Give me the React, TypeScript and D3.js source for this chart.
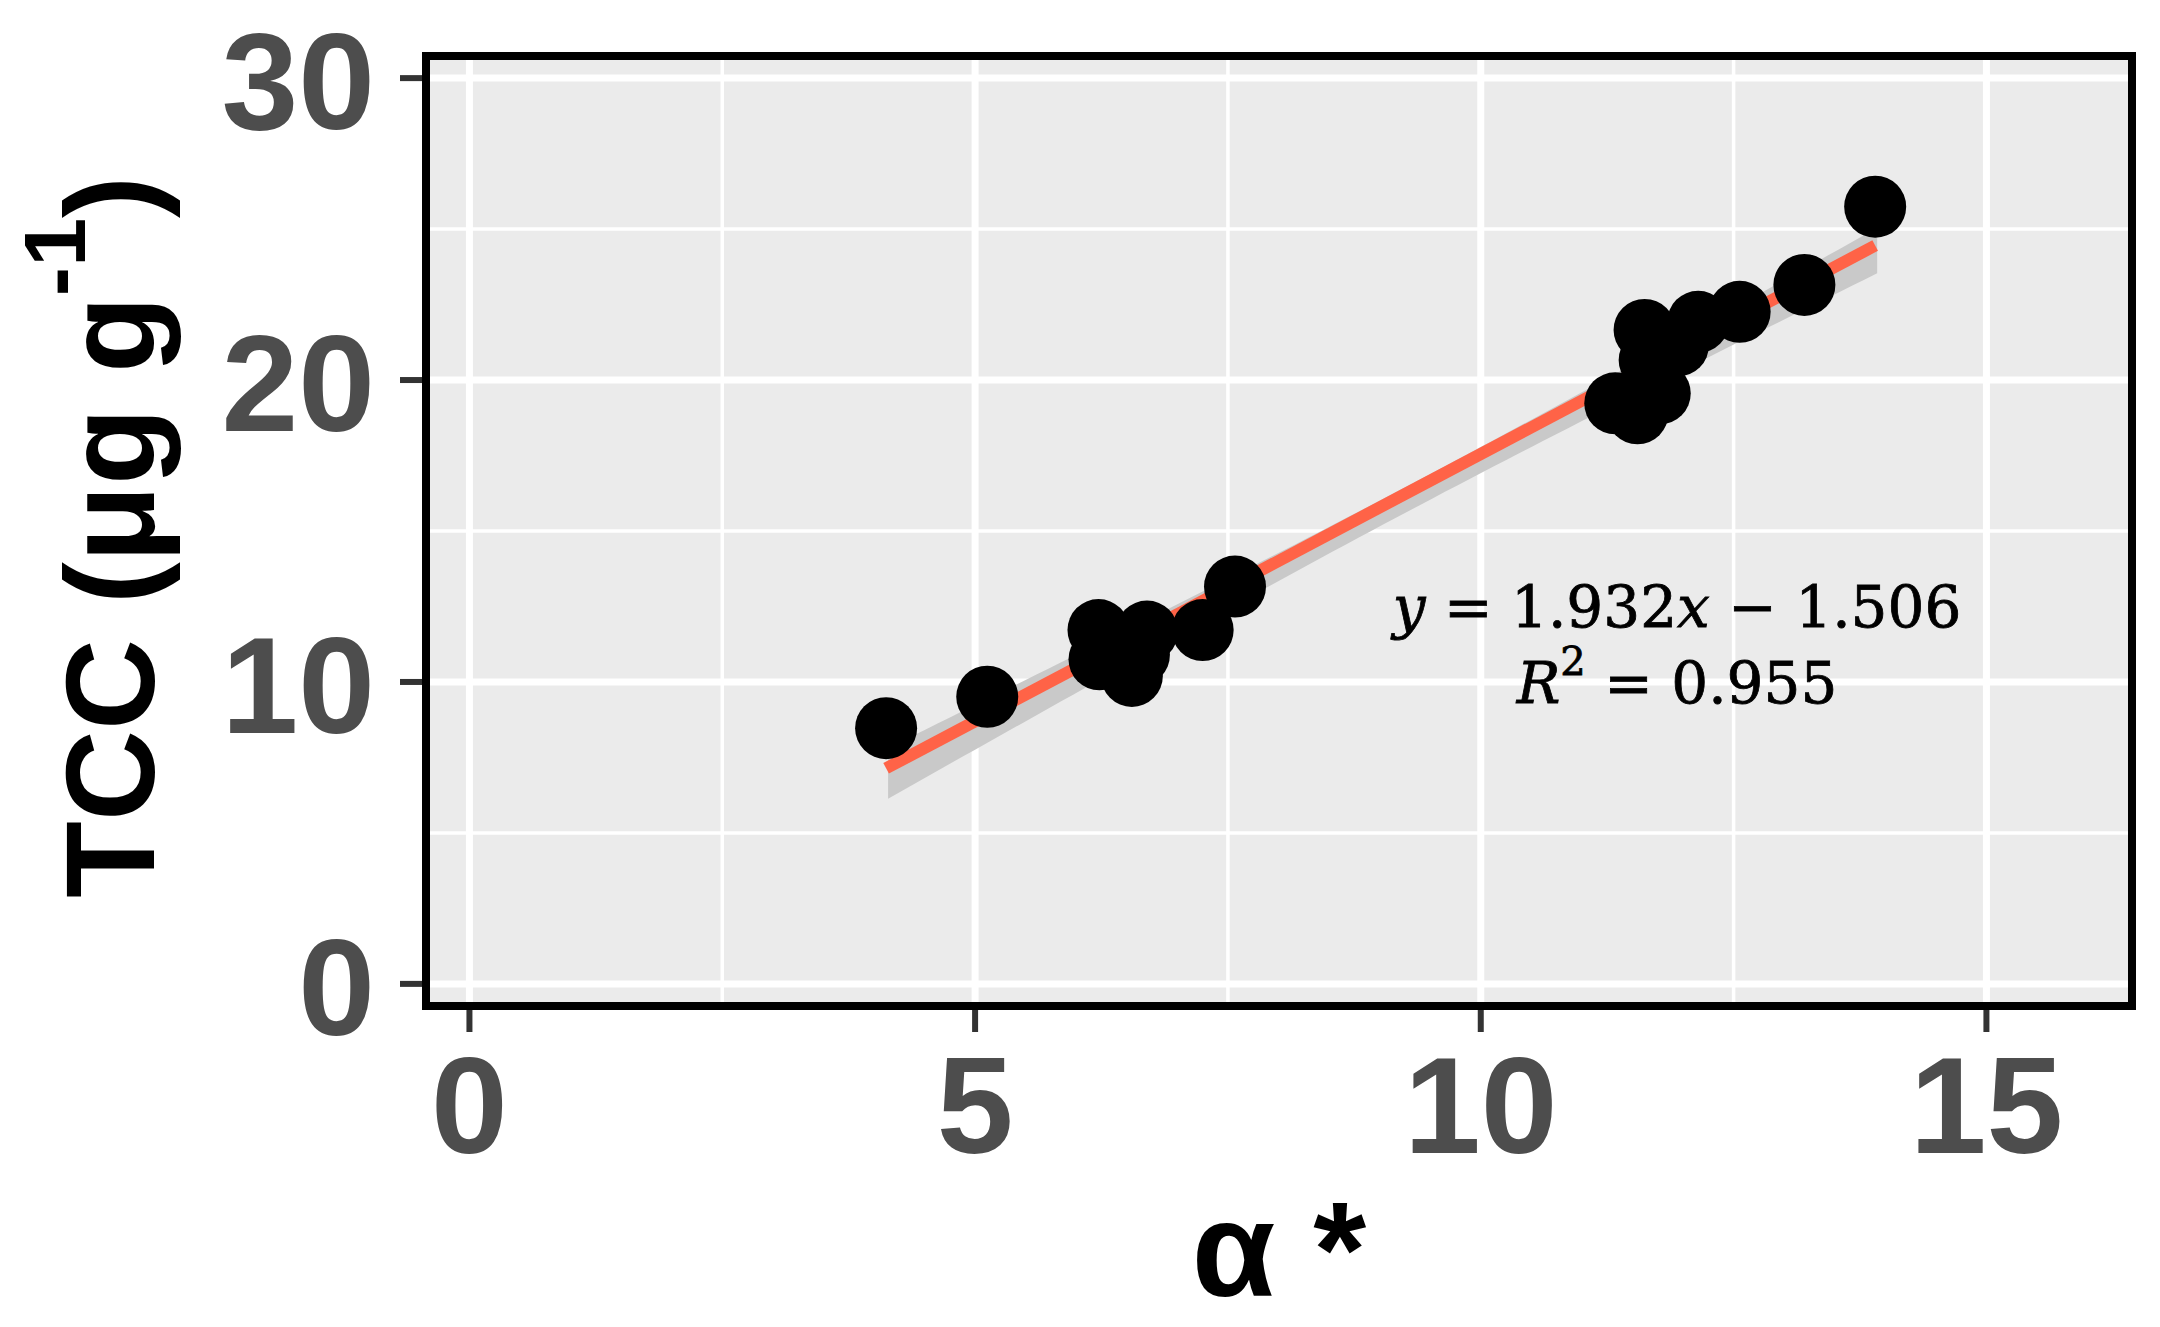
import React from "react";
import * as d3 from "d3";

// ---- data ----
const alphaStar = [4.12, 5.12, 6.22, 6.23, 6.55, 6.62, 6.70, 7.25, 7.57, 11.33, 11.55, 11.67, 11.77, 11.62, 11.95, 12.15, 12.56, 13.20, 13.90];
const tcc = [8.47, 9.51, 11.72, 10.75, 10.2, 10.9, 11.67, 11.72, 13.16, 19.23, 18.9, 20.66, 19.56, 21.66, 21.15, 21.93, 22.26, 23.15, 25.74];

const xTicks = [0, 5, 10, 15];
const xMinorTicks = [2.5, 7.5, 12.5];
const yTicks = [0, 10, 20, 30];
const yMinorTicks = [5, 15, 25];
const xDomain = [-0.39, 16.4];
const yDomain = [-0.6, 30.6];

const equationLine1 = "1.932";
const equationLine1b = "1.506";
const r2Text = "0.955";

const W = 2160;
const H = 1327;
const panel = { left: 430, right: 2128, top: 60, bottom: 1002 };

const SANS = "'Liberation Sans', Arial, Helvetica, sans-serif";
const SERIF = "'DejaVu Serif', 'Liberation Serif', serif";

export default function App() {
  const x = d3.scaleLinear().domain(xDomain).range([panel.left, panel.right]);
  const y = d3.scaleLinear().domain(yDomain).range([panel.bottom, panel.top]);

  // least squares fit + 95% confidence band
  const n = alphaStar.length;
  const xbar = d3.mean(alphaStar) as number;
  const ybar = d3.mean(tcc) as number;
  let sxx = 0, sxy = 0;
  for (let i = 0; i < n; i++) {
    sxx += (alphaStar[i] - xbar) ** 2;
    sxy += (alphaStar[i] - xbar) * (tcc[i] - ybar);
  }
  const slope = sxy / sxx;
  const intercept = ybar - slope * xbar;
  let sse = 0;
  for (let i = 0; i < n; i++) sse += (tcc[i] - (intercept + slope * alphaStar[i])) ** 2;
  const s = Math.sqrt(sse / (n - 2));
  const tCrit = 2.11;
  const [xLo, xHi] = d3.extent(alphaStar) as [number, number];
  const grid = d3.range(0, 81).map((k) => xLo + ((xHi - xLo) * k) / 80);
  const band = grid.map((gx) => {
    const fit = intercept + slope * gx;
    const se = s * Math.sqrt(1 / n + (gx - xbar) ** 2 / sxx);
    return { x: gx, lo: fit - tCrit * se, hi: fit + tCrit * se };
  });
  const area = d3
    .area<{ x: number; lo: number; hi: number }>()
    .x((d) => x(d.x))
    .y0((d) => y(d.lo))
    .y1((d) => y(d.hi));
  const line = d3
    .line<number>()
    .x((d) => x(d))
    .y((d) => y(intercept + slope * d));

  return (
    <svg
      width={W}
      height={H}
      style={{ position: "absolute", left: 0, top: 0, display: "block", background: "#fff" }}
    >
      <rect x={0} y={0} width={W} height={H} fill="#fff" />
      {/* panel */}
      <rect x={panel.left} y={panel.top} width={panel.right - panel.left} height={panel.bottom - panel.top} fill="#EBEBEB" />
      {/* minor grid */}
      {xMinorTicks.map((t) => (
        <line key={"xm" + t} x1={x(t)} x2={x(t)} y1={panel.top} y2={panel.bottom} stroke="#fff" strokeWidth={3.5} />
      ))}
      {yMinorTicks.map((t) => (
        <line key={"ym" + t} y1={y(t)} y2={y(t)} x1={panel.left} x2={panel.right} stroke="#fff" strokeWidth={3.5} />
      ))}
      {/* major grid */}
      {xTicks.map((t) => (
        <line key={"xg" + t} x1={x(t)} x2={x(t)} y1={panel.top} y2={panel.bottom} stroke="#fff" strokeWidth={7} />
      ))}
      {yTicks.map((t) => (
        <line key={"yg" + t} y1={y(t)} y2={y(t)} x1={panel.left} x2={panel.right} stroke="#fff" strokeWidth={7} />
      ))}

      {/* confidence ribbon (slightly offset as in the reference) */}
      <path d={area(band) || ""} fill="#C9C9C9" transform="translate(2,5)" />
      {/* regression line */}
      <path d={line([xLo, xHi]) || ""} stroke="#FF6347" strokeWidth={12} fill="none" />

      {/* points */}
      {alphaStar.map((a, i) => (
        <circle key={i} cx={x(a)} cy={y(tcc[i])} r={31} fill="#000" />
      ))}

      {/* equation */}
      <text x={1677} y={627} textAnchor="middle" fontFamily={SERIF} fontSize={58} fill="#000" stroke="#000" strokeWidth={0.8}>
        <tspan fontStyle="italic">y</tspan>
        <tspan> = {equationLine1}</tspan>
        <tspan fontStyle="italic">x</tspan>
        <tspan> − {equationLine1b}</tspan>
      </text>
      <text x={1677} y={703} textAnchor="middle" fontFamily={SERIF} fontSize={58} fill="#000" stroke="#000" strokeWidth={0.8}>
        <tspan fontStyle="italic">R</tspan>
        <tspan fontSize={40} dy={-28}>2</tspan>
        <tspan dy={28}> = {r2Text}</tspan>
      </text>

      {/* panel border */}
      <rect
        x={panel.left - 4}
        y={panel.top - 4}
        width={panel.right - panel.left + 8}
        height={panel.bottom - panel.top + 8}
        fill="none"
        stroke="#000"
        strokeWidth={8}
      />

      {/* y axis ticks + labels */}
      {yTicks.map((t) => (
        <g key={"yt" + t}>
          <line x1={400} x2={422} y1={y(t)} y2={y(t)} stroke="#333" strokeWidth={6} />
          <text x={375} y={y(t) + 51} textAnchor="end" fontFamily={SANS} fontWeight="bold" fontSize={138} fill="#4D4D4D">
            {t}
          </text>
        </g>
      ))}
      {/* x axis ticks + labels */}
      {xTicks.map((t) => (
        <g key={"xt" + t}>
          <line x1={x(t)} x2={x(t)} y1={1010} y2={1032} stroke="#333" strokeWidth={6} />
          <text x={x(t)} y={1153} textAnchor="middle" fontFamily={SANS} fontWeight="bold" fontSize={138} fill="#4D4D4D">
            {t}
          </text>
        </g>
      ))}

      {/* axis titles */}
      <text x={1279} y={1296} textAnchor="middle" fontFamily={SANS} fontWeight="bold" fontSize={136} fill="#000">
        α *
      </text>
      <text
        transform="translate(154,537) rotate(-90)"
        textAnchor="middle"
        fontFamily={SANS}
        fontWeight="bold"
        fontSize={126}
        fill="#000"
      >
        <tspan>TCC (μg g</tspan>
        <tspan fontSize={88} dy={-69}>-1</tspan>
        <tspan dy={69}>)</tspan>
      </text>
    </svg>
  );
}
